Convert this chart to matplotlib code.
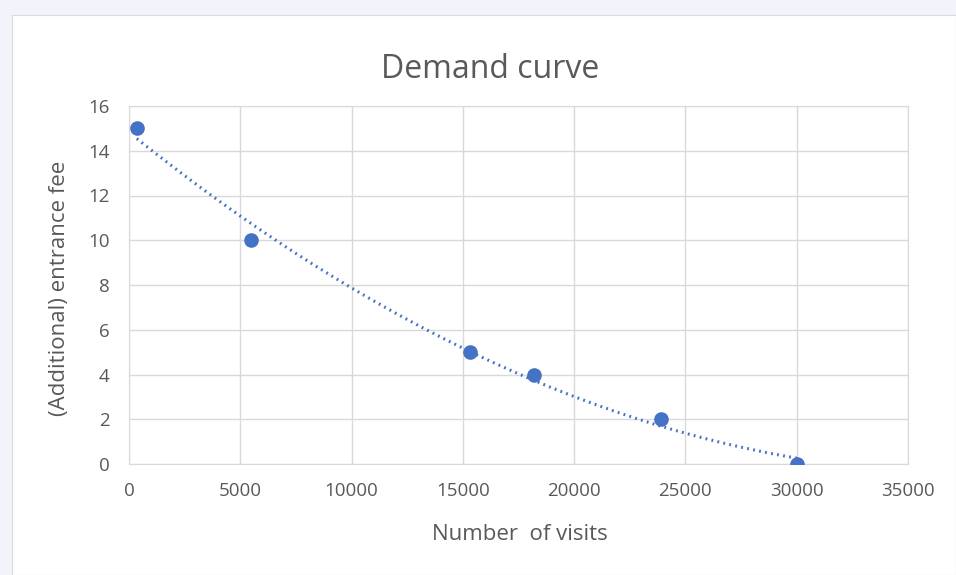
import numpy as np
import matplotlib
matplotlib.use("Agg")
import matplotlib.pyplot as plt

visits = [350, 5500, 15300, 18200, 23900, 30000]
fee = [15, 10, 5, 4, 2, 0]
x_ticks = [0, 5000, 10000, 15000, 20000, 25000, 30000, 35000]
y_ticks = [0, 2, 4, 6, 8, 10, 12, 14, 16]

plt.rcParams['font.family'] = ['Open Sans', 'DejaVu Sans']

fig = plt.figure(figsize=(9.56, 5.75), dpi=100)
fig.patch.set_facecolor('#f3f3fb')
# white chart area
bg = fig.add_axes([12/956, 0, 1 - 12/956, 1 - 15/575])
bg.set_facecolor('white')
bg.set_xticks([]); bg.set_yticks([])
for s in bg.spines.values():
    s.set_color('#d9d9e0')
bg.set_zorder(0)

ax = fig.add_axes([129/956, 1 - 464/575, (908 - 129)/956, (464 - 106)/575])
ax.set_zorder(1)
ax.set_facecolor('white')

# polynomial trendline (order 2), fitted to the data
coef = np.polyfit(visits, fee, 2)
xs = np.linspace(min(visits), max(visits), 300)
ax.plot(xs, np.polyval(coef, xs), color='#4472C4', linewidth=2.2,
        linestyle=(0, (0.6, 1.4)), zorder=3)
ax.plot(visits, fee, 'o', color='#4472C4', markersize=9.5, zorder=4)

ax.set_xlim(0, 35000)
ax.set_ylim(0, 16)
ax.set_xticks(x_ticks)
ax.set_yticks(y_ticks)
ax.grid(True, color='#d9d9d9', linewidth=1)
ax.set_axisbelow(True)
for s in ax.spines.values():
    s.set_color('#d9d9d9')
ax.tick_params(axis='x', length=0, labelsize=13.5, labelcolor='#595959', pad=13)
ax.tick_params(axis='y', length=0, labelsize=13.5, labelcolor='#595959', pad=14)

fig.text(490/956, 1 - 70/575, 'Demand curve', fontsize=23, color='#595959',
         ha='center', va='center')
fig.text(520/956, 1 - 535/575, 'Number  of visits', fontsize=16, color='#595959',
         ha='center', va='center')
fig.text(60/956, 1 - 288/575, '(Additional) entrance fee', fontsize=16,
         color='#595959', ha='center', va='center', rotation=90)

fig.savefig('out.png', dpi=100, facecolor=fig.get_facecolor())
